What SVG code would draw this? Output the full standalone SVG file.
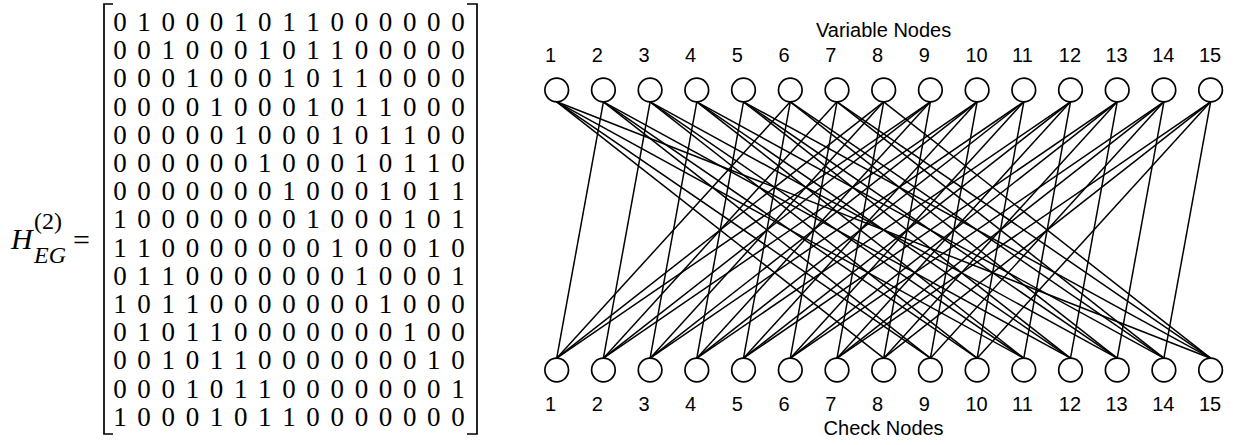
<svg xmlns="http://www.w3.org/2000/svg" width="1237" height="445" viewBox="0 0 1237 445">
<style>
.m{font-family:"Liberation Serif","Times New Roman",serif;font-size:27px;fill:#000;text-anchor:middle}
.eq{font-family:"Liberation Serif","Times New Roman",serif;fill:#000}
.br{fill:none;stroke:#000;stroke-width:1.7}
.nd{fill:#fff;stroke:#000;stroke-width:1.7}
.lb{font-family:"Liberation Sans",Arial,sans-serif;font-size:20px;fill:#000}
.tt{font-family:"Liberation Sans",Arial,sans-serif;font-size:20px;fill:#000;text-anchor:middle}
#edges line{stroke:#000;stroke-width:1.5}
</style>
<g id="equation">
<text class="eq" x="11" y="249" font-size="30" font-style="italic">H</text>
<text class="eq" x="34" y="229" font-size="24">(2)</text>
<text class="eq" x="34" y="263" font-size="24" font-style="italic">EG</text>
<text class="eq" x="73" y="250" font-size="30">=</text>
<path class="br" d="M113,4 H104 V434 H113"/>
<path class="br" d="M467,4 H477 V434 H467"/>
<g class="m">
<text x="120 144.1 168.3 192.4 216.6 240.7 264.8 289 313.1 337.3 361.4 385.5 409.7 433.8 458" y="31">010001011000000</text>
<text x="120 144.1 168.3 192.4 216.6 240.7 264.8 289 313.1 337.3 361.4 385.5 409.7 433.8 458" y="59.2">001000101100000</text>
<text x="120 144.1 168.3 192.4 216.6 240.7 264.8 289 313.1 337.3 361.4 385.5 409.7 433.8 458" y="87.4">000100010110000</text>
<text x="120 144.1 168.3 192.4 216.6 240.7 264.8 289 313.1 337.3 361.4 385.5 409.7 433.8 458" y="115.6">000010001011000</text>
<text x="120 144.1 168.3 192.4 216.6 240.7 264.8 289 313.1 337.3 361.4 385.5 409.7 433.8 458" y="143.8">000001000101100</text>
<text x="120 144.1 168.3 192.4 216.6 240.7 264.8 289 313.1 337.3 361.4 385.5 409.7 433.8 458" y="172">000000100010110</text>
<text x="120 144.1 168.3 192.4 216.6 240.7 264.8 289 313.1 337.3 361.4 385.5 409.7 433.8 458" y="200.2">000000010001011</text>
<text x="120 144.1 168.3 192.4 216.6 240.7 264.8 289 313.1 337.3 361.4 385.5 409.7 433.8 458" y="228.4">100000001000101</text>
<text x="120 144.1 168.3 192.4 216.6 240.7 264.8 289 313.1 337.3 361.4 385.5 409.7 433.8 458" y="256.6">110000000100010</text>
<text x="120 144.1 168.3 192.4 216.6 240.7 264.8 289 313.1 337.3 361.4 385.5 409.7 433.8 458" y="284.8">011000000010001</text>
<text x="120 144.1 168.3 192.4 216.6 240.7 264.8 289 313.1 337.3 361.4 385.5 409.7 433.8 458" y="313">101100000001000</text>
<text x="120 144.1 168.3 192.4 216.6 240.7 264.8 289 313.1 337.3 361.4 385.5 409.7 433.8 458" y="341.2">010110000000100</text>
<text x="120 144.1 168.3 192.4 216.6 240.7 264.8 289 313.1 337.3 361.4 385.5 409.7 433.8 458" y="369.4">001011000000010</text>
<text x="120 144.1 168.3 192.4 216.6 240.7 264.8 289 313.1 337.3 361.4 385.5 409.7 433.8 458" y="397.6">000101100000001</text>
<text x="120 144.1 168.3 192.4 216.6 240.7 264.8 289 313.1 337.3 361.4 385.5 409.7 433.8 458" y="425.8">100010110000000</text>
</g>
</g>
<text class="tt" x="883.6" y="37">Variable Nodes</text>
<text class="tt" x="883.6" y="435">Check Nodes</text>
<g id="edges">
<line x1="603.4" y1="101.8" x2="556.7" y2="358.2"/><line x1="790.3" y1="101.8" x2="556.7" y2="358.2"/><line x1="883.7" y1="101.8" x2="556.7" y2="358.2"/><line x1="930.4" y1="101.8" x2="556.7" y2="358.2"/>
<line x1="650.1" y1="101.8" x2="603.4" y2="358.2"/><line x1="837" y1="101.8" x2="603.4" y2="358.2"/><line x1="930.4" y1="101.8" x2="603.4" y2="358.2"/><line x1="977.1" y1="101.8" x2="603.4" y2="358.2"/>
<line x1="696.8" y1="101.8" x2="650.1" y2="358.2"/><line x1="883.7" y1="101.8" x2="650.1" y2="358.2"/><line x1="977.1" y1="101.8" x2="650.1" y2="358.2"/><line x1="1023.8" y1="101.8" x2="650.1" y2="358.2"/>
<line x1="743.5" y1="101.8" x2="696.8" y2="358.2"/><line x1="930.4" y1="101.8" x2="696.8" y2="358.2"/><line x1="1023.8" y1="101.8" x2="696.8" y2="358.2"/><line x1="1070.5" y1="101.8" x2="696.8" y2="358.2"/>
<line x1="790.3" y1="101.8" x2="743.5" y2="358.2"/><line x1="977.1" y1="101.8" x2="743.5" y2="358.2"/><line x1="1070.5" y1="101.8" x2="743.5" y2="358.2"/><line x1="1117.2" y1="101.8" x2="743.5" y2="358.2"/>
<line x1="837" y1="101.8" x2="790.3" y2="358.2"/><line x1="1023.8" y1="101.8" x2="790.3" y2="358.2"/><line x1="1117.2" y1="101.8" x2="790.3" y2="358.2"/><line x1="1163.9" y1="101.8" x2="790.3" y2="358.2"/>
<line x1="883.7" y1="101.8" x2="837" y2="358.2"/><line x1="1070.5" y1="101.8" x2="837" y2="358.2"/><line x1="1163.9" y1="101.8" x2="837" y2="358.2"/><line x1="1210.6" y1="101.8" x2="837" y2="358.2"/>
<line x1="556.7" y1="101.8" x2="883.7" y2="358.2"/><line x1="930.4" y1="101.8" x2="883.7" y2="358.2"/><line x1="1117.2" y1="101.8" x2="883.7" y2="358.2"/><line x1="1210.6" y1="101.8" x2="883.7" y2="358.2"/>
<line x1="556.7" y1="101.8" x2="930.4" y2="358.2"/><line x1="603.4" y1="101.8" x2="930.4" y2="358.2"/><line x1="977.1" y1="101.8" x2="930.4" y2="358.2"/><line x1="1163.9" y1="101.8" x2="930.4" y2="358.2"/>
<line x1="603.4" y1="101.8" x2="977.1" y2="358.2"/><line x1="650.1" y1="101.8" x2="977.1" y2="358.2"/><line x1="1023.8" y1="101.8" x2="977.1" y2="358.2"/><line x1="1210.6" y1="101.8" x2="977.1" y2="358.2"/>
<line x1="556.7" y1="101.8" x2="1023.8" y2="358.2"/><line x1="650.1" y1="101.8" x2="1023.8" y2="358.2"/><line x1="696.8" y1="101.8" x2="1023.8" y2="358.2"/><line x1="1070.5" y1="101.8" x2="1023.8" y2="358.2"/>
<line x1="603.4" y1="101.8" x2="1070.5" y2="358.2"/><line x1="696.8" y1="101.8" x2="1070.5" y2="358.2"/><line x1="743.5" y1="101.8" x2="1070.5" y2="358.2"/><line x1="1117.2" y1="101.8" x2="1070.5" y2="358.2"/>
<line x1="650.1" y1="101.8" x2="1117.2" y2="358.2"/><line x1="743.5" y1="101.8" x2="1117.2" y2="358.2"/><line x1="790.3" y1="101.8" x2="1117.2" y2="358.2"/><line x1="1163.9" y1="101.8" x2="1117.2" y2="358.2"/>
<line x1="696.8" y1="101.8" x2="1163.9" y2="358.2"/><line x1="790.3" y1="101.8" x2="1163.9" y2="358.2"/><line x1="837" y1="101.8" x2="1163.9" y2="358.2"/><line x1="1210.6" y1="101.8" x2="1163.9" y2="358.2"/>
<line x1="556.7" y1="101.8" x2="1210.6" y2="358.2"/><line x1="743.5" y1="101.8" x2="1210.6" y2="358.2"/><line x1="837" y1="101.8" x2="1210.6" y2="358.2"/><line x1="883.7" y1="101.8" x2="1210.6" y2="358.2"/>
</g>
<g id="v1"><circle class="nd" cx="556.7" cy="90" r="11.8"/><text class="lb" x="545" y="62">1</text></g>
<g id="v2"><circle class="nd" cx="603.4" cy="90" r="11.8"/><text class="lb" x="591.7" y="62">2</text></g>
<g id="v3"><circle class="nd" cx="650.1" cy="90" r="11.8"/><text class="lb" x="638.4" y="62">3</text></g>
<g id="v4"><circle class="nd" cx="696.8" cy="90" r="11.8"/><text class="lb" x="685.1" y="62">4</text></g>
<g id="v5"><circle class="nd" cx="743.5" cy="90" r="11.8"/><text class="lb" x="731.8" y="62">5</text></g>
<g id="v6"><circle class="nd" cx="790.3" cy="90" r="11.8"/><text class="lb" x="778.6" y="62">6</text></g>
<g id="v7"><circle class="nd" cx="837" cy="90" r="11.8"/><text class="lb" x="825.3" y="62">7</text></g>
<g id="v8"><circle class="nd" cx="883.7" cy="90" r="11.8"/><text class="lb" x="872" y="62">8</text></g>
<g id="v9"><circle class="nd" cx="930.4" cy="90" r="11.8"/><text class="lb" x="918.7" y="62">9</text></g>
<g id="v10"><circle class="nd" cx="977.1" cy="90" r="11.8"/><text class="lb" x="965.4" y="62">10</text></g>
<g id="v11"><circle class="nd" cx="1023.8" cy="90" r="11.8"/><text class="lb" x="1012.1" y="62">11</text></g>
<g id="v12"><circle class="nd" cx="1070.5" cy="90" r="11.8"/><text class="lb" x="1058.8" y="62">12</text></g>
<g id="v13"><circle class="nd" cx="1117.2" cy="90" r="11.8"/><text class="lb" x="1105.5" y="62">13</text></g>
<g id="v14"><circle class="nd" cx="1163.9" cy="90" r="11.8"/><text class="lb" x="1152.2" y="62">14</text></g>
<g id="v15"><circle class="nd" cx="1210.6" cy="90" r="11.8"/><text class="lb" x="1198.9" y="62">15</text></g>
<g id="c1"><circle class="nd" cx="556.7" cy="370" r="11.8"/><text class="lb" x="545" y="411">1</text></g>
<g id="c2"><circle class="nd" cx="603.4" cy="370" r="11.8"/><text class="lb" x="591.7" y="411">2</text></g>
<g id="c3"><circle class="nd" cx="650.1" cy="370" r="11.8"/><text class="lb" x="638.4" y="411">3</text></g>
<g id="c4"><circle class="nd" cx="696.8" cy="370" r="11.8"/><text class="lb" x="685.1" y="411">4</text></g>
<g id="c5"><circle class="nd" cx="743.5" cy="370" r="11.8"/><text class="lb" x="731.8" y="411">5</text></g>
<g id="c6"><circle class="nd" cx="790.3" cy="370" r="11.8"/><text class="lb" x="778.6" y="411">6</text></g>
<g id="c7"><circle class="nd" cx="837" cy="370" r="11.8"/><text class="lb" x="825.3" y="411">7</text></g>
<g id="c8"><circle class="nd" cx="883.7" cy="370" r="11.8"/><text class="lb" x="872" y="411">8</text></g>
<g id="c9"><circle class="nd" cx="930.4" cy="370" r="11.8"/><text class="lb" x="918.7" y="411">9</text></g>
<g id="c10"><circle class="nd" cx="977.1" cy="370" r="11.8"/><text class="lb" x="965.4" y="411">10</text></g>
<g id="c11"><circle class="nd" cx="1023.8" cy="370" r="11.8"/><text class="lb" x="1012.1" y="411">11</text></g>
<g id="c12"><circle class="nd" cx="1070.5" cy="370" r="11.8"/><text class="lb" x="1058.8" y="411">12</text></g>
<g id="c13"><circle class="nd" cx="1117.2" cy="370" r="11.8"/><text class="lb" x="1105.5" y="411">13</text></g>
<g id="c14"><circle class="nd" cx="1163.9" cy="370" r="11.8"/><text class="lb" x="1152.2" y="411">14</text></g>
<g id="c15"><circle class="nd" cx="1210.6" cy="370" r="11.8"/><text class="lb" x="1198.9" y="411">15</text></g>
</svg>
